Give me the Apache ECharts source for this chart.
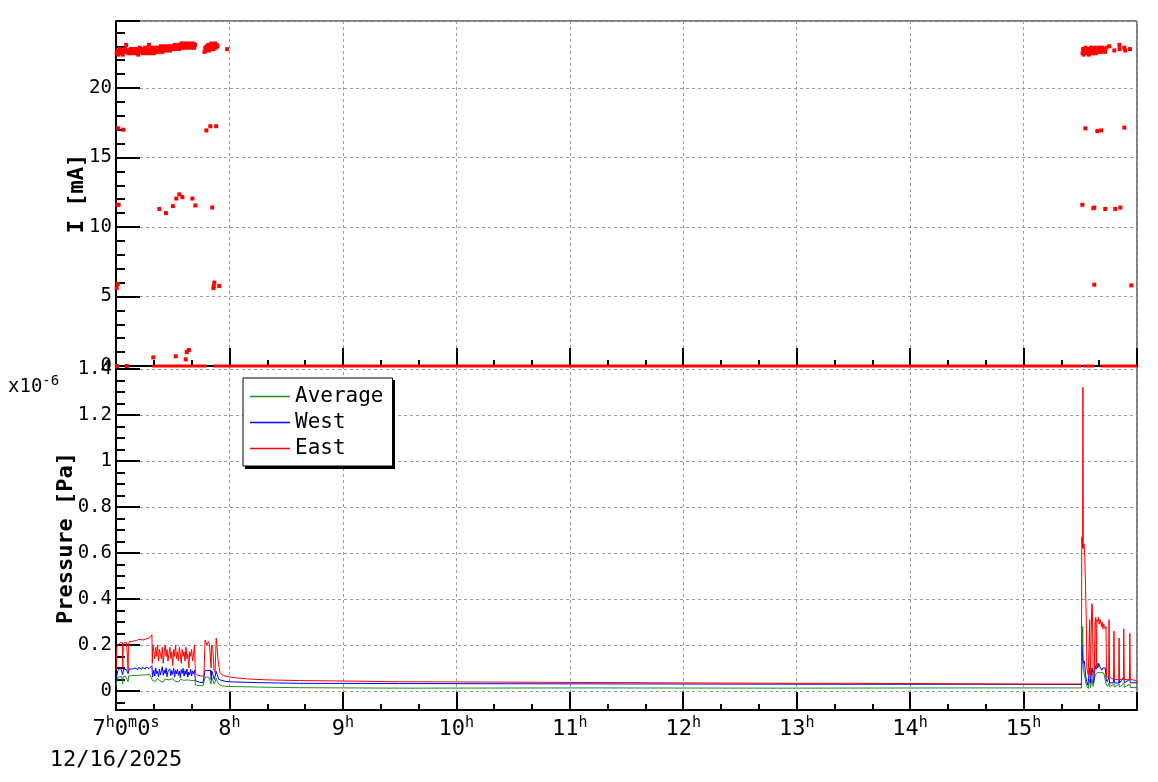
<!DOCTYPE html>
<html><head><meta charset="utf-8">
<script src="https://cdn.jsdelivr.net/npm/echarts@6/dist/echarts.min.js"></script>
<style>html,body{margin:0;padding:0;background:#fff}#c{width:1158px;height:782px}</style>
</head><body><div id="c"></div>
<script>
// ---- time axis (hours of 12/16/2025) ----
const startHour = 7;
const endHour = 16;
const dateLabel = '12/16/2025';

// ---- beam current I [mA]: [minutes after 7:00, mA] ----
const currentBeamOn = [
[0.4,22.5],[0.8,22.7],[1.2,22.4],[1.6,22.6],[2.0,22.8],[2.4,22.5],[2.8,22.7],[3.2,22.6],[3.6,22.4],[4.0,22.7],
[4.4,22.6],[4.8,22.8],[5.4,23.1],[5.8,22.6],[6.2,22.7],[6.6,22.5],[7.0,22.7],[7.4,22.6],[7.8,22.8],[8.2,22.5],
[8.6,22.7],[9.0,22.6],[9.4,22.8],[9.8,22.6],[10.2,22.5],[10.6,22.7],[11.0,22.8],[11.4,22.6],[11.8,22.4],[12.2,22.7],
[12.6,22.9],[13.0,22.6],[13.4,22.8],[13.8,22.7],[14.2,22.5],[14.6,22.8],[15.0,22.6],[15.4,22.9],[15.8,22.7],[16.2,22.5],
[16.6,22.8],[17.0,22.6],[17.4,23.1],[17.8,22.7],[18.2,22.5],[18.6,22.8],[19.0,22.6],[19.4,22.9],[19.8,22.7],[20.2,22.5],
[20.6,22.8],[21.0,22.6],[21.4,22.9],[21.8,22.7],[22.2,22.8],[22.6,22.6],[23.0,22.9],[23.4,22.7],[23.8,23.0],[24.2,22.8],
[24.6,22.6],[25.0,22.9],[25.4,22.7],[25.8,23.0],[26.2,22.8],[26.6,22.9],[27.0,22.7],[27.4,23.0],[27.8,22.8],[28.2,22.9],
[28.6,22.7],[29.0,23.0],[29.4,22.8],[29.8,22.9],[30.2,23.0],[30.6,22.8],[31.0,23.1],[31.4,22.9],[31.8,22.8],[32.2,23.0],
[32.6,22.9],[33.0,23.1],[33.4,22.8],[33.8,23.0],[34.2,22.9],[34.6,23.2],[35.0,22.9],[35.4,23.0],[35.8,23.2],[36.2,22.9],
[36.6,23.1],[37.0,23.0],[37.4,23.2],[37.8,22.9],[38.2,23.1],[38.6,23.0],[39.0,23.2],[39.4,23.0],[39.8,22.9],[40.2,23.1],
[40.6,23.0],[41.0,23.2],[41.4,22.9],[41.8,23.1],
[46.8,22.6],[47.2,22.9],[47.6,22.7],[48.0,23.0],[48.4,22.8],[48.8,23.1],[49.2,22.7],[49.6,23.0],[50.0,22.8],[50.4,23.2],
[50.8,22.9],[51.2,23.1],[51.6,22.8],[52.0,23.0],[52.4,23.2],[52.8,22.9],[53.2,23.1],[53.7,23.0],[58.8,22.8],
[511.2,22.5],[511.5,22.8],[511.8,22.4],[512.1,22.7],[512.4,22.6],[512.8,22.9],[513.1,22.5],[513.5,22.8],[513.8,22.6],
[514.2,22.7],[514.6,22.4],[515.0,22.8],[515.3,22.6],[515.7,22.9],[516.0,22.7],[516.4,22.5],[516.8,22.8],[517.2,22.6],
[517.6,22.9],[518.0,22.7],[518.4,22.5],[518.8,22.8],[519.2,22.6],[519.6,22.9],[520.0,22.7],[520.5,22.8],[521.0,22.6],
[521.5,22.9],[522.0,22.7],[522.6,22.8],[523.2,22.6],[523.8,22.9],[525.4,23.0],[528.0,22.7],[530.7,23.1],[530.8,22.8],
[533.3,22.9],[533.8,22.7],[536.3,22.8]
];
const currentPartial = [
[1.2,17.1],[3.9,17.0],[47.8,16.95],[49.9,17.25],[53.0,17.25],
[512.7,17.1],[519.0,16.9],[521.1,16.95],[533.3,17.15],
[0.7,11.6],[1.4,11.6],[22.9,11.3],[26.4,11.0],[30.1,11.5],[31.9,12.05],[33.5,12.35],[35.1,12.15],[40.4,12.05],[42.0,11.55],[50.9,11.4],
[511.1,11.6],[516.9,11.35],[517.4,11.4],[523.2,11.3],[528.5,11.3],[531.2,11.4],
[0.35,5.6],[0.9,5.9],[51.5,5.6],[51.7,5.75],[52.0,6.0],[54.6,5.75],[517.4,5.85],[537.0,5.8],
[19.7,0.62],[31.6,0.7],[36.9,0.48],[37.4,1.0],[38.5,1.15],[0.5,0],[5.7,0]
];
// spans of minutes during which I = 0 mA was read continuously
const zeroCurrentSpans = [[18.9,48.0],[51.3,510.6],[511.6,517.4],[520.8,540.0]];

// ---- pressure x1e-6 Pa: [minutes after 7:00, value] ----
const pressureAverage = [
[0,0.02],[0.5,0.045],[1,0.06],[2,0.062],[3,0.063],[3.5,0.03],[3.8,0.062],[5,0.064],[6,0.065],[6.4,0.04],[6.7,0.065],
[8,0.066],[10,0.067],[12,0.068],[14,0.069],[16,0.07],[18,0.071],[19,0.075],[19.3,0.045],
[20,0.05],[21,0.042],[22,0.055],[23,0.045],[24,0.05],[25,0.038],[26,0.052],[27,0.044],[28,0.048],[29,0.04],[30,0.053],
[31,0.043],[32,0.047],[33,0.039],[34,0.05],[35,0.042],[36,0.046],[37,0.04],[38,0.048],[39,0.041],[40,0.045],[41,0.042],[41.8,0.046],
[42,0.026],[44,0.023],[46,0.022],[47,0.022],[47.1,0.06],[48,0.062],[49,0.06],[50,0.061],[50.3,0.03],[50.6,0.058],[51.5,0.05],
[52,0.03],[53,0.055],[53.6,0.04],[54.5,0.028],[56,0.022],[58,0.02],[62,0.019],[80,0.016],[97,0.014],[150,0.012],[250,0.013],
[350,0.012],[450,0.013],[510.6,0.013],
[510.8,0.1],[511.3,0.28],[511.6,0.1],[512.2,0.07],[512.8,0.04],[513.5,0.02],[514.2,0.01],[514.8,0.015],[515,0.05],[515.4,0.015],
[516.2,0.05],[516.8,0.02],[517.6,0.02],[517.9,0.07],[518.5,0.075],[519.2,0.08],[520,0.078],[520.8,0.08],[521.6,0.075],[522.4,0.078],
[523.2,0.07],[523.7,0.03],[524.5,0.02],[525.2,0.035],[525.5,0.018],[527.8,0.03],[528.1,0.017],[530.5,0.03],[530.8,0.016],
[533,0.035],[533.3,0.016],[536.2,0.03],[536.5,0.015],[540,0.014]
];
const pressureWest = [
[0,0.05],[0.5,0.07],[1,0.09],[1.5,0.095],[2,0.088],[2.5,0.1],[3,0.092],[3.5,0.07],[4,0.095],[4.5,0.09],[5,0.1],[5.5,0.093],
[6,0.097],[6.4,0.075],[7,0.096],[7.5,0.09],[8,0.1],[8.5,0.094],[9,0.098],[9.5,0.092],[10,0.1],[10.5,0.095],[11,0.099],[11.5,0.093],
[12,0.102],[12.5,0.096],[13,0.1],[13.5,0.094],[14,0.103],[14.5,0.097],[15,0.1],[15.5,0.095],[16,0.104],[16.5,0.098],[17,0.102],
[17.5,0.097],[18,0.105],[18.5,0.1],[19,0.11],[19.3,0.06],
[20,0.09],[20.5,0.065],[21,0.1],[21.5,0.075],[22,0.085],[22.5,0.06],[23,0.095],[23.5,0.07],[24,0.088],[24.5,0.105],[25,0.068],
[25.5,0.09],[26,0.075],[26.5,0.1],[27,0.062],[27.5,0.085],[28,0.078],[28.5,0.096],[29,0.066],[29.5,0.088],[30,0.072],[30.5,0.1],
[31,0.06],[31.5,0.09],[32,0.074],[32.5,0.094],[33,0.068],[33.5,0.086],[34,0.058],[34.5,0.092],[35,0.076],[35.5,0.098],[36,0.064],
[36.5,0.088],[37,0.072],[37.5,0.095],[38,0.06],[38.5,0.082],[39,0.07],[39.5,0.093],[40,0.065],[40.5,0.087],[41,0.074],[41.5,0.09],
[42,0.045],[43,0.04],[44,0.038],[45,0.037],[46,0.036],[47,0.037],[47.1,0.09],[47.8,0.095],[48.5,0.088],[49.2,0.094],[50,0.09],
[50.3,0.05],[50.6,0.088],[51.4,0.08],[52,0.05],[52.6,0.045],[53,0.085],[53.6,0.07],[54.3,0.05],[55,0.045],[58,0.041],[62,0.039],
[75,0.036],[97,0.033],[150,0.032],[220,0.031],[300,0.03],[380,0.029],[450,0.029],[510.6,0.028],
[510.8,0.2],[511.2,0.15],[511.6,0.12],[512.2,0.13],[512.8,0.07],[513.4,0.04],[514,0.025],[514.6,0.03],[515,0.1],[515.4,0.035],
[516,0.04],[516.2,0.1],[516.6,0.08],[517,0.035],[517.6,0.04],[517.9,0.11],[518.4,0.095],[518.8,0.12],[519.3,0.1],[519.8,0.12],
[520.3,0.105],[520.8,0.11],[521.4,0.09],[522,0.1],[522.6,0.095],[523.2,0.1],[523.7,0.05],[524.2,0.04],[525,0.04],[525.2,0.06],
[525.5,0.035],[527.6,0.035],[527.8,0.055],[528.1,0.035],[530.3,0.034],[530.5,0.05],[530.8,0.034],[533,0.06],[533.3,0.036],
[536.2,0.05],[536.5,0.035],[540,0.036]
];
const pressureEast = [
[0,0.09],[0.4,0.19],[1,0.2],[1.6,0.205],[2.2,0.21],[2.8,0.205],[3.4,0.21],[3.6,0.1],[3.8,0.2],[4.4,0.21],[5,0.215],[5.6,0.21],
[6.2,0.212],[6.4,0.09],[6.6,0.205],[7.2,0.215],[7.8,0.218],[8.4,0.214],[9,0.22],[9.6,0.218],[10.2,0.222],[10.8,0.219],[11.4,0.221],
[12,0.224],[12.6,0.22],[13.2,0.223],[13.8,0.226],[14.4,0.222],[15,0.228],[15.6,0.225],[16.2,0.23],[16.8,0.228],[17.4,0.234],
[18,0.232],[18.6,0.24],[19,0.245],[19.2,0.12],[19.5,0.2],
[20,0.17],[20.5,0.14],[21,0.19],[21.5,0.15],[22,0.2],[22.5,0.13],[23,0.18],[23.5,0.16],[24,0.14],[24.5,0.19],[25,0.12],[25.5,0.17],
[26,0.2],[26.5,0.15],[27,0.18],[27.5,0.13],[28,0.16],[28.5,0.19],[29,0.14],[29.5,0.17],[30,0.11],[30.5,0.18],[31,0.15],[31.5,0.2],
[32,0.14],[32.5,0.17],[33,0.13],[33.5,0.19],[34,0.16],[34.5,0.12],[35,0.18],[35.5,0.15],[36,0.17],[36.5,0.13],[37,0.19],[37.5,0.14],
[38,0.16],[38.5,0.1],[39,0.17],[39.5,0.15],[40,0.18],[40.5,0.13],[41,0.16],[41.5,0.2],
[42,0.08],[42.5,0.07],[43.5,0.068],[44.5,0.066],[45.5,0.065],[46.5,0.064],[47,0.065],[47.1,0.22],[47.6,0.21],[48.2,0.2],[48.8,0.215],
[49.4,0.205],[50,0.21],[50.3,0.1],[50.6,0.2],[51.2,0.19],[51.8,0.09],[52.4,0.08],[53,0.23],[53.4,0.2],[54,0.13],[55,0.08],[56,0.07],
[58,0.064],[62,0.058],[70,0.052],[80,0.048],[97,0.045],[120,0.043],[147,0.04],[180,0.039],[210,0.038],[240,0.037],[270,0.036],
[300,0.035],[330,0.034],[360,0.033],[390,0.033],[420,0.032],[450,0.031],[480,0.03],[510.6,0.03],
[510.8,0.67],[511.2,0.62],[511.4,1.32],[511.6,0.62],[512,0.64],[512.4,0.58],[512.8,0.45],[513.2,0.3],[513.5,0.1],[514.2,0.07],
[514.8,0.065],[515,0.31],[515.3,0.06],[515.8,0.06],[516.1,0.38],[516.4,0.36],[516.8,0.09],[517.4,0.07],[517.8,0.3],[518.2,0.32],
[518.5,0.1],[518.8,0.31],[519.2,0.3],[519.6,0.32],[520,0.29],[520.4,0.31],[520.8,0.3],[521.2,0.28],[521.6,0.3],[522,0.27],
[522.4,0.29],[522.8,0.28],[523.2,0.27],[523.6,0.28],[523.9,0.06],[524.5,0.055],[525,0.06],[525.2,0.31],[525.5,0.06],[526.5,0.055],
[527.6,0.05],[527.8,0.26],[528.1,0.05],[530.3,0.05],[530.5,0.23],[530.8,0.05],[532.8,0.05],[533,0.27],[533.3,0.05],[536,0.048],
[536.2,0.25],[536.5,0.05],[538,0.047],[540,0.045]
];

// ---- axis ranges ----
const currentRange = [0, 24.82];
const pressureRange = [-0.083, 1.413];

const FONT = 'DejaVu Sans Mono';
const toXY = ([m, v]) => [startHour + m / 60, v];
const zeroLineData = [];
zeroCurrentSpans.forEach(([a, b]) => {
  zeroLineData.push(toXY([a, 0]), toXY([b, 0]), [startHour + b / 60, '-']);
});

const gridLine = {show: true, lineStyle: {color: '#9a9a9a', type: [3, 3], width: 1}};
const axisLineStyle = {show: true, onZero: false, lineStyle: {color: '#000', width: 2}};

function xAxisCfg(gi, showLabels) {
  return {
    type: 'value', gridIndex: gi, min: startHour, max: endHour, interval: 1,
    axisLine: axisLineStyle,
    axisTick: {show: true, inside: true, length: 18, lineStyle: {color: '#000', width: 2}},
    minorTick: {show: true, splitNumber: 3, length: 6, lineStyle: {color: '#000', width: 2}},
    splitLine: gridLine,
    axisLabel: showLabels ? {
      show: true, margin: 6, showMaxLabel: false,
      formatter: v => {
        const h = Math.round(v);
        if (h === startHour) return '{p|' + h + '}{s|h}{n|0}{s|m}{n|0}{s|s}\n{d|' + dateLabel + '}';
        return '{n|' + h + '}{s|h}';
      },
      rich: {
        n: {fontFamily: FONT, fontSize: 22, color: '#000', lineHeight: 26},
        d: {fontFamily: FONT, fontSize: 22, color: '#000', lineHeight: 26, padding: [10, 0, 0, 0]},
        p: {fontFamily: FONT, fontSize: 22, color: '#000', lineHeight: 26, padding: [0, 0, 0, 20]},
        s: {fontFamily: FONT, fontSize: 15, color: '#000', lineHeight: 26, padding: [0, 0, 12, 0]}
      }
    } : {show: false}
  };
}

function yAxisCfg(gi, range, split, minorSplit, name, gap) {
  return {
    type: 'value', gridIndex: gi, min: range[0], max: range[1], splitNumber: split,
    axisLine: axisLineStyle,
    axisTick: {show: true, inside: true, length: 24, lineStyle: {color: '#000', width: 2}},
    minorTick: {show: true, splitNumber: minorSplit, length: 9, lineStyle: {color: '#000', width: 2}},
    splitLine: gridLine,
    axisLabel: {
      fontFamily: FONT, fontSize: 19, color: '#000', margin: 4,
      showMinLabel: gi === 0, showMaxLabel: false,
      formatter: v => Math.abs(v) < 1e-9 ? '0' : String(+v.toFixed(3))
    },
    name: name, nameLocation: 'middle', nameGap: gap, nameMoveOverlap: false,
    nameTextStyle: {fontFamily: FONT, fontSize: 22, fontWeight: 'bold', color: '#000'}
  };
}

const chart = echarts.init(document.getElementById('c'), null, {renderer: 'canvas'});
chart.setOption({
  animation: false,
  backgroundColor: '#fff',
  title: {
    text: '{a|x10}{b|-6}', left: 3, top: 369,
    textStyle: {fontWeight: 'normal', rich: {
      a: {fontFamily: FONT, fontSize: 19, fontWeight: 'normal', color: '#000'},
      b: {fontFamily: FONT, fontSize: 14, fontWeight: 'normal', color: '#000', padding: [0, 0, 12, 0]}
    }}
  },
  graphic: [{
    type: 'rect', left: 245, top: 380, z: 90,
    shape: {width: 150, height: 89}, style: {fill: '#000'}, silent: true
  }],
  legend: {
    orient: 'vertical', left: 243, top: 378, padding: [8, 9, 7, 7], itemGap: 5, z: 100,
    itemWidth: 40, itemHeight: 1.5, icon: 'rect', selectedMode: false,
    backgroundColor: '#fff', borderColor: '#000', borderWidth: 1,
    textStyle: {fontFamily: FONT, fontSize: 21, color: '#000'},
    data: ['Average', 'West', 'East']
  },
  grid: [
    {left: 116, right: 21, top: 21, height: 345, show: true, borderColor: '#000', borderWidth: 1, backgroundColor: 'transparent'},
    {left: 116, right: 21, top: 366, height: 344, show: true, borderColor: '#000', borderWidth: 1, backgroundColor: 'transparent'}
  ],
  xAxis: [xAxisCfg(0, false), xAxisCfg(1, true)],
  yAxis: [
    yAxisCfg(0, currentRange, 5, 5, 'I [mA]', 28),
    yAxisCfg(1, pressureRange, 7, 4, 'Pressure [Pa]', 39)
  ],
  series: [
    {name: 'I', type: 'line', xAxisIndex: 0, yAxisIndex: 0, data: zeroLineData, symbol: 'none', clip: false,
     lineStyle: {color: '#ff0000', width: 3}, z: 3},
    {name: 'I pts', type: 'scatter', xAxisIndex: 0, yAxisIndex: 0, data: currentBeamOn.concat(currentPartial).map(toXY),
     symbol: 'rect', symbolSize: 4, itemStyle: {color: '#ff0000', opacity: 1}, clip: false, z: 3},
    {name: 'Average', type: 'line', xAxisIndex: 1, yAxisIndex: 1, data: pressureAverage.map(toXY), symbol: 'none',
     color: '#1f8f1f', lineStyle: {color: '#1f8f1f', width: 1}},
    {name: 'West', type: 'line', xAxisIndex: 1, yAxisIndex: 1, data: pressureWest.map(toXY), symbol: 'none',
     color: '#0000ff', lineStyle: {color: '#0000ff', width: 1}},
    {name: 'East', type: 'line', xAxisIndex: 1, yAxisIndex: 1, data: pressureEast.map(toXY), symbol: 'none',
     color: '#ff0000', lineStyle: {color: '#ff0000', width: 1}}
  ]
});
</script>
</body></html>
